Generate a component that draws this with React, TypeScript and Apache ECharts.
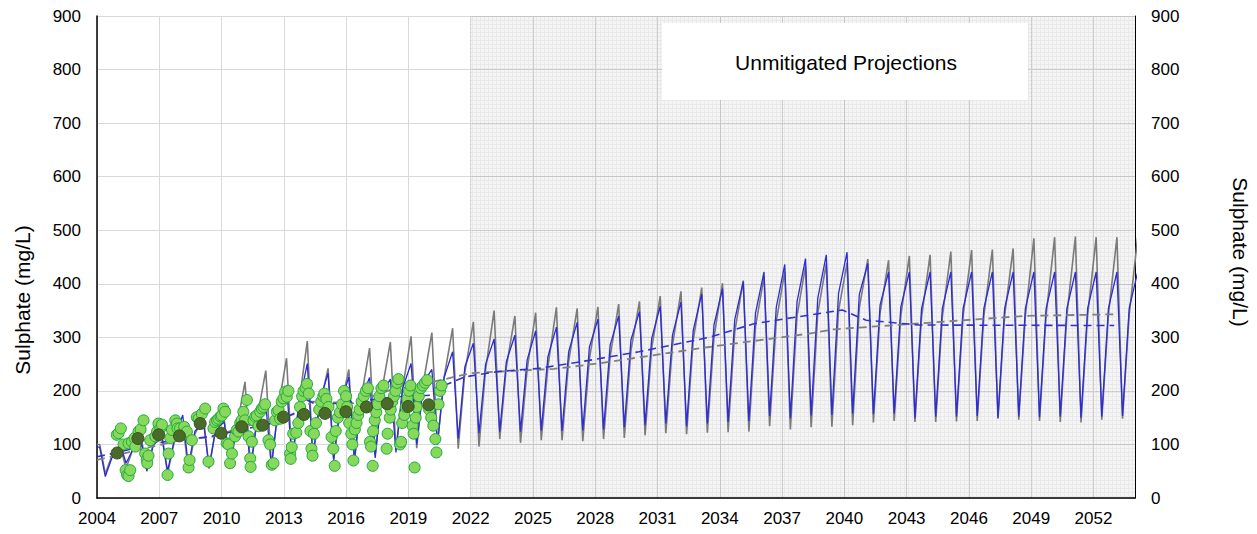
import { useEffect, useRef } from 'react';
import * as echarts from 'echarts';

// ---- data ----
const cycleYears = [
  2004, 2005, 2006, 2007, 2008, 2009, 2010, 2011, 2012, 2013,
  2014, 2015, 2016, 2017, 2018, 2019, 2020, 2021, 2022, 2023,
  2024, 2025, 2026, 2027, 2028, 2029, 2030, 2031, 2032, 2033,
  2034, 2035, 2036, 2037, 2038, 2039, 2040, 2041, 2042, 2043,
  2044, 2045, 2046, 2047, 2048, 2049, 2050, 2051, 2052, 2053, 2054,
];

const grayStart = [2004, 100];
const grayPeak = [
  100, 97, 110, 118, 140, 150, 145, 217, 238, 261,
  293, 242, 240, 280, 291, 302, 309, 317, 329, 350,
  340, 346, 356, 354, 357, 362, 367, 377, 386, 393,
  401, 406, 413, 423, 433, 438, 439, 446, 444, 452,
  454, 460, 463, 464, 466, 485, 487, 488, 487, 487, 487,
];
const grayTrough = [
  45, 55, 60, 45, 52, 55, 55, 52, 60, 65,
  71, 70, 68, 80, 90, 93, 100, 92, 96, 110,
  103, 108, 108, 106, 110, 112, 117, 121, 119, 122,
  123, 124, 134, 128, 132, 133, 136, 141, 144, 142,
  142, 143, 144, 148, 146, 144, 142, 141, 146, 148,
];
const grayShoulder = [
  80, 90, 100, 105, 120, 130, 130, 150, 165, 175,
  170, 165, 185, 200, 205, 215, 225, 235, 240, 245,
  240, 245, 255, 260, 265, 275, 280, 285, 295, 300,
  310, 320, 330, 340, 345, 350, 355, 345, 340, 338,
  338, 340, 340, 340, 340, 342, 342, 342, 342, 342,
];

const blueStart = [2004, 95];
const bluePeak = [
  95, 100, 105, 112, 155, 140, 142, 165, 175, 210,
  251, 233, 226, 225, 222, 251, 240, 273, 289, 297,
  304, 312, 319, 328, 334, 340, 348, 358, 366, 381,
  391, 404, 422, 436, 447, 454, 459, 438, 422, 422,
  422, 422, 422, 422, 422, 422, 422, 422, 422, 422, 422,
];
const blueTrough = [
  40, 65, 50, 50, 60, 58, 58, 55, 58, 65,
  75, 72, 70, 75, 85, 100, 100, 111, 121, 124,
  124, 126, 125, 126, 128, 132, 136, 139, 134, 139,
  142, 144, 153, 149, 154, 155, 158, 157, 158, 149,
  152, 152, 153, 150, 152, 151, 152, 150, 152, 153,
];
const blueShoulder = [
  75, 90, 100, 108, 125, 128, 135, 150, 165, 175,
  180, 175, 185, 195, 205, 215, 225, 245, 250, 255,
  258, 264, 273, 282, 286, 295, 298, 304, 313, 323,
  333, 345, 356, 366, 373, 382, 380, 360, 357, 354,
  354, 354, 354, 354, 354, 354, 354, 354, 354, 354,
];

const blueTrend = [
  [2004, 77], [2005, 85], [2006.5, 100], [2008, 110], [2009.4, 114], [2010.9, 127],
  [2012.5, 140], [2013.6, 160], [2014.1, 183], [2014.6, 174], [2016, 178],
  [2018.45, 189], [2020.2, 192], [2020.6, 208], [2021.7, 226], [2023.3, 236],
  [2025.3, 242], [2027.7, 257], [2030.1, 273], [2033.5, 300], [2035.6, 325],
  [2037.2, 335], [2039.9, 351], [2041.05, 332], [2043.6, 323], [2053, 322],
];
const grayTrend = [
  [2004, 71], [2006, 90], [2008, 108], [2009.5, 114], [2011.6, 139], [2013.9, 160],
  [2014.3, 180], [2016.35, 177], [2018.6, 208], [2020.2, 217], [2021.2, 226],
  [2022, 233], [2023.3, 236], [2026, 241], [2028.1, 251], [2033.3, 281],
  [2038.3, 307], [2039.5, 315], [2043.6, 326], [2048.7, 340], [2053, 343],
];

const observed = [
  [2004.95, 118], [2005.04, 121], [2005.15, 130], [2005.28, 100], [2005.38, 52], [2005.45, 43],
  [2005.52, 41], [2005.6, 52], [2005.52, 102], [2005.68, 105], [2005.81, 112], [2005.84, 96],
  [2006.0, 124], [2006.1, 128], [2006.24, 145], [2006.32, 83], [2006.4, 72], [2006.42, 65],
  [2006.48, 79], [2006.56, 108], [2006.81, 115], [2006.89, 124], [2006.96, 139], [2007.05, 130],
  [2007.13, 137], [2007.4, 43], [2007.45, 83], [2007.53, 112], [2007.61, 127], [2007.77, 145],
  [2007.85, 139], [2007.88, 130],
  [2008.0, 130], [2008.1, 118], [2008.2, 133], [2008.33, 124], [2008.41, 57], [2008.46, 71],
  [2008.57, 108], [2008.81, 151], [2008.89, 148],
  [2009.05, 157], [2009.21, 167], [2009.37, 68], [2009.61, 130], [2009.69, 142], [2009.78, 145],
  [2009.85, 148], [2009.95, 152],
  [2010.01, 154], [2010.09, 167], [2010.17, 161], [2010.25, 102], [2010.33, 100], [2010.41, 65],
  [2010.5, 83], [2010.65, 115], [2010.73, 127], [2010.81, 124], [2010.9, 140],
  [2010.97, 145], [2011.05, 161], [2011.13, 145], [2011.22, 183], [2011.3, 115], [2011.38, 74],
  [2011.4, 58], [2011.46, 105], [2011.54, 145], [2011.62, 152], [2011.7, 154], [2011.78, 134],
  [2011.86, 161], [2011.94, 167],
  [2012.02, 170], [2012.1, 175], [2012.26, 108], [2012.34, 100], [2012.42, 62], [2012.5, 65],
  [2012.58, 145], [2012.66, 161], [2012.74, 164], [2012.82, 148], [2012.9, 180], [2012.98, 186],
  [2013.06, 198], [2013.14, 189], [2013.22, 200], [2013.3, 83], [2013.33, 73], [2013.38, 95],
  [2013.45, 120], [2013.6, 122], [2013.7, 140], [2013.78, 170], [2013.88, 190], [2013.95, 200],
  [2014.05, 205], [2014.12, 213], [2014.2, 195], [2014.28, 125], [2014.33, 92], [2014.38, 79],
  [2014.45, 120], [2014.55, 140], [2014.7, 165], [2014.8, 180], [2014.9, 190], [2014.95, 195],
  [2015.05, 185], [2015.15, 170], [2015.3, 114], [2015.38, 92], [2015.45, 60], [2015.5, 125],
  [2015.6, 150], [2015.7, 160], [2015.8, 175], [2015.9, 200],
  [2016.0, 190], [2016.05, 170], [2016.15, 140], [2016.25, 120], [2016.3, 100], [2016.35, 70],
  [2016.42, 128], [2016.5, 140], [2016.58, 155], [2016.65, 165], [2016.75, 180], [2016.85, 190],
  [2016.95, 200],
  [2017.05, 205], [2017.15, 105], [2017.2, 96], [2017.28, 60], [2017.3, 125], [2017.38, 145],
  [2017.45, 160], [2017.52, 175], [2017.6, 190], [2017.7, 205], [2017.8, 210],
  [2017.95, 92], [2018.0, 120], [2018.1, 150], [2018.15, 165], [2018.22, 180], [2018.3, 190],
  [2018.38, 200], [2018.45, 215], [2018.52, 222], [2018.6, 100], [2018.65, 105], [2018.7, 140],
  [2018.8, 155], [2018.88, 170], [2018.95, 185], [2019.02, 200], [2019.1, 210], [2019.2, 135],
  [2019.25, 120], [2019.3, 57], [2019.35, 150], [2019.4, 170], [2019.5, 190], [2019.6, 205],
  [2019.7, 210], [2019.8, 215], [2019.9, 220], [2020.0, 165], [2020.1, 150], [2020.2, 135],
  [2020.3, 110], [2020.35, 85], [2020.45, 175], [2020.52, 200], [2020.6, 210],
];

const annualAverage = [
  [2004.97, 84], [2005.97, 111], [2006.97, 118], [2007.97, 116], [2008.97, 139], [2009.98, 121],
  [2010.97, 133], [2011.98, 136], [2012.98, 151], [2013.97, 156], [2014.98, 158], [2015.99, 161],
  [2016.98, 170], [2017.98, 176], [2018.99, 171], [2019.98, 174],
];

const projectionStart = 2022;
const xMin = 2004;
const xMax = 2054;
const yTitle = 'Sulphate (mg/L)';
const boxLabel = 'Unmitigated Projections';

const PEAK_PHASE = 0.13;
const TROUGH_PHASE = 0.4;
const SHOULDER_PHASE = 0.72;

function buildCycle(start: number[], peaks: number[], troughs: number[], shoulders: number[]) {
  const pts: number[][] = [start];
  cycleYears.forEach((y, i) => {
    pts.push([y + PEAK_PHASE, peaks[i]]);
    if (i < troughs.length) {
      pts.push([y + TROUGH_PHASE, troughs[i]]);
      pts.push([y + SHOULDER_PHASE, shoulders[i]]);
    }
  });
  return pts;
}

function makePattern() {
  const c = document.createElement('canvas');
  c.width = 4;
  c.height = 4;
  const ctx = c.getContext('2d')!;
  ctx.fillStyle = 'rgba(0,0,0,0.04)';
  ctx.fillRect(0, 0, 4, 4);
  ctx.fillStyle = 'rgba(0,0,0,0.05)';
  ctx.fillRect(0, 0, 1, 4);
  ctx.fillRect(1, 0, 3, 1);
  return c;
}

const FONT = "'Liberation Sans', Arial, sans-serif";

export default function App() {
  const ref = useRef<HTMLDivElement>(null);
  useEffect(() => {
    document.body.style.margin = '0';
    const chart = echarts.init(ref.current!, undefined, { renderer: 'svg' });
    const labelStyle = { color: '#000', fontSize: 17, fontFamily: FONT };
    const option: any = {
      animation: false,
      backgroundColor: '#fff',
      grid: { left: 97, right: 122, top: 16, bottom: 36, containLabel: false },
      xAxis: {
        type: 'value', min: xMin, max: xMax, interval: 3,
        axisLine: { show: true, onZero: false, lineStyle: { color: '#000', width: 1.5 } },
        axisTick: { show: false },
        axisLabel: { ...labelStyle, margin: 12, showMaxLabel: false, formatter: (v: number) => (v === xMax ? '' : String(v)) },
        splitLine: { show: true, lineStyle: { color: '#d9d9d9', width: 1 } },
      },
      yAxis: [
        {
          type: 'value', min: 0, max: 900, interval: 100, position: 'left',
          axisLine: { show: true, lineStyle: { color: '#000', width: 1.5 } },
          axisTick: { show: false },
          axisLabel: { ...labelStyle, margin: 16 },
          splitLine: { show: true, lineStyle: { color: '#d9d9d9', width: 1 } },
        },
        {
          type: 'value', min: 0, max: 900, interval: 100, position: 'right',
          axisLine: { show: true, lineStyle: { color: '#000', width: 1 } },
          axisTick: { show: false },
          axisLabel: { ...labelStyle, margin: 16 },
          splitLine: { show: false },
        },
      ],
      graphic: [
        { type: 'rect', shape: { x: 662, y: 23, width: 366, height: 77 }, style: { fill: '#fff' }, z: 10 },
        { type: 'text', x: 846, y: 62, z: 11, style: { text: boxLabel, fontSize: 21, fontFamily: FONT, fill: '#000', align: 'center', verticalAlign: 'middle' } },
        { type: 'text', x: 22, y: 300, rotation: Math.PI / 2, style: { text: yTitle, fontSize: 21, fontFamily: FONT, fill: '#000', align: 'center', verticalAlign: 'middle' } },
        { type: 'text', x: 1240, y: 252, rotation: -Math.PI / 2, style: { text: yTitle, fontSize: 21, fontFamily: FONT, fill: '#000', align: 'center', verticalAlign: 'middle' } },
      ],
      series: [
        {
          name: 'gray', type: 'line', data: buildCycle(grayStart, grayPeak, grayTrough, grayShoulder),
          showSymbol: false, symbol: 'none', lineStyle: { color: '#7a7a7a', width: 1.6 }, z: 2,
          markArea: {
            silent: true,
            itemStyle: { color: { image: makePattern(), repeat: 'repeat' } },
            data: [[{ xAxis: projectionStart }, { xAxis: xMax }]],
          },
        },
        {
          name: 'blue', type: 'line', data: buildCycle(blueStart, bluePeak, blueTrough, blueShoulder),
          showSymbol: false, symbol: 'none', lineStyle: { color: '#2b2bd8', width: 1.3 }, z: 3,
        },
        {
          name: 'grayTrend', type: 'line', data: grayTrend, showSymbol: false, symbol: 'none',
          lineStyle: { color: '#808080', width: 1.8, type: [8, 5] }, z: 4,
        },
        {
          name: 'blueTrend', type: 'line', data: blueTrend, showSymbol: false, symbol: 'none',
          lineStyle: { color: '#3333cc', width: 1.6, type: [8, 5] }, z: 4,
        },
        {
          name: 'observed', type: 'scatter', data: observed, symbol: 'circle', symbolSize: 11,
          itemStyle: { color: '#86d95a', borderColor: '#22a844', borderWidth: 1, opacity: 1 }, z: 5,
        },
        {
          name: 'annual', type: 'scatter', data: annualAverage, symbol: 'circle', symbolSize: 12,
          itemStyle: { color: '#4a6a2a', borderColor: '#38531f', borderWidth: 1, opacity: 1 }, z: 6,
        },
      ],
    };
    chart.setOption(option);
    return () => chart.dispose();
  }, []);
  return <div ref={ref} style={{ width: 1257, height: 534 }} />;
}
